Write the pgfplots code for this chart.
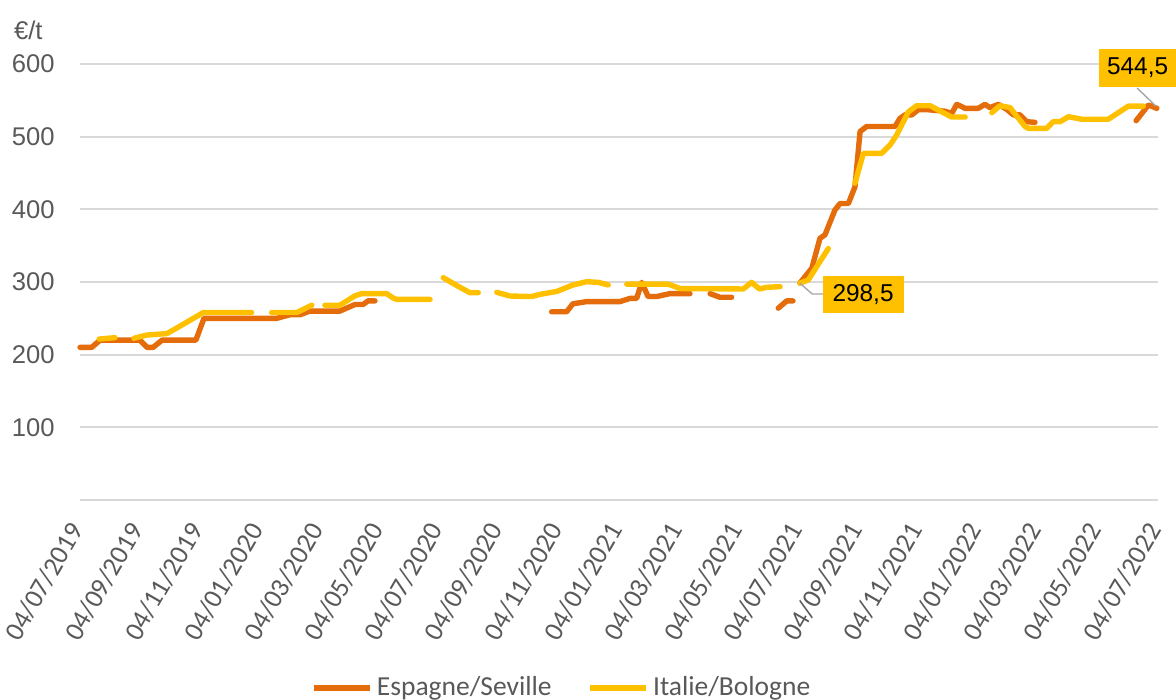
\documentclass[border=0pt]{standalone}
\usepackage{fontspec}
\setmainfont{Liberation Sans}
\newfontfamily\carlito{Carlito}
\usepackage{pgfplots}
\pgfplotsset{compat=1.18}
\definecolor{esp}{RGB}{228,108,10}
\definecolor{ita}{RGB}{255,192,0}
\definecolor{txt}{RGB}{89,89,89}
\definecolor{grd}{RGB}{217,217,217}
\begin{document}
\begin{tikzpicture}
\begin{axis}[
 at={(0,0)}, anchor=south west,
 scale only axis, width=539pt, height=218pt,
 xmin=0, xmax=36, ymin=0, ymax=600,
 clip=false,
 axis line style={draw=none},
 major tick length=0pt,
 ytick={100,200,...,600},
 ymajorgrids, grid style={grd, line width=1pt},
 extra y ticks={0}, extra y tick labels={}, extra y tick style={grid=major},
 /pgf/number format/assume math mode=true,
 yticklabel style={font=\fontsize{12.8}{12.8}\selectfont, text=txt, inner sep=0pt, xshift=-12.5pt},
 xtick={0,2,...,36},
 xticklabels={04/07/2019,04/09/2019,04/11/2019,04/01/2020,04/03/2020,04/05/2020,04/07/2020,04/09/2020,04/11/2020,04/01/2021,04/03/2021,04/05/2021,04/07/2021,04/09/2021,04/11/2021,04/01/2022,04/03/2022,04/05/2022,04/07/2022},
 xticklabel style={font=\carlito\fontsize{13.5}{13.5}\selectfont, text=txt, inner sep=0pt, xshift=-1.5pt, yshift=-12.5pt, rotate=60, anchor=east},
 unbounded coords=jump,
 legend style={at={(0.448,-0.431)}, anchor=center, draw=none, legend columns=2, font=\carlito\fontsize{13.75}{13.75}\selectfont, text=txt, /tikz/every even column/.append style={column sep=16pt}, inner sep=0pt},
 legend image code/.code={\draw[#1, line cap=butt] (0pt,0pt) -- (28pt,0pt);},
]
\addplot[esp, line width=2.7pt, line join=round, line cap=round] coordinates {
(0.00,210) (0.39,210) (0.67,220) (2.00,220) (2.24,210) (2.44,210) (2.74,220) (3.87,220) (4.14,250) (6.57,250) (7.01,255) (7.35,255) (7.68,260) (8.68,260) (9.18,269) (9.45,269) (9.62,274) (9.85,274)
(12,nan)
(15.75,259) (16.25,259) (16.46,270) (16.92,273) (18.03,273) (18.37,277.5) (18.59,277.5) (18.76,299.5) (18.97,280) (19.26,280) (19.70,284) (20.37,284)
(20.7,nan)
(21.04,284) (21.37,279) (21.76,279)
(22.5,nan)
(23.32,264) (23.60,274) (23.81,274)
(23.9,nan)
(24.04,298.5) (24.44,319) (24.71,360) (24.88,365) (25.21,399) (25.38,408) (25.66,408) (25.88,431) (26.05,507) (26.27,514) (27.22,514) (27.38,525) (27.55,530) (27.78,530) (27.99,537) (28.33,537) (28.89,535) (29.11,532) (29.28,544.5) (29.56,539) (30.00,539) (30.22,544.5) (30.39,540) (30.67,544.5) (30.95,537.6) (31.17,530) (31.39,530) (31.62,520.6) (31.89,519.7)
(33,nan)
(35.27,522) (35.68,543.6) (35.96,539)
};
\addlegendentry{Espagne/Seville}
\addplot[ita, line width=2.7pt, line join=round, line cap=round] coordinates {
(0.64,221.5) (1.17,223.4)
(1.5,nan)
(1.80,222.5) (2.23,227) (2.90,229) (3.12,234) (4.12,258) (5.73,258)
(6,nan)
(6.40,258) (7.24,258) (7.74,268)
(8,nan)
(8.18,268) (8.68,268) (9.18,281) (9.41,284) (10.24,284) (10.46,278) (10.58,276) (11.69,276)
(11.9,nan)
(12.13,306) (12.63,294) (13.02,285.3) (13.30,285.3)
(13.6,nan)
(13.92,285.8) (14.36,280.7) (15.08,280) (15.36,283) (15.92,287) (16.47,296) (16.92,300.4) (17.31,299.5) (17.64,296)
(17.9,nan)
(18.26,297) (19.65,297) (20.04,291) (22.15,290.4) (22.43,299.5) (22.69,290.4) (22.93,292.7) (23.38,293.6)
(23.7,nan)
(24.04,298.5) (24.32,302.7) (24.60,321) (24.99,346)
(25.4,nan)
(25.88,436) (26.16,477) (26.77,477) (27.05,488.5) (27.27,502) (27.66,534) (27.94,542.6) (28.39,542.6) (29.11,527) (29.56,527)
(30,nan)
(30.45,533) (30.72,542.6) (31.06,540) (31.17,534) (31.56,514) (31.67,511.4) (32.28,511.4) (32.50,520.6) (32.73,520.6) (33.01,527.5) (33.45,524) (34.34,524) (35.01,542) (35.51,542)
};
\addlegendentry{Italie/Bologne}
\draw[gray!70, line width=0.7pt] (axis cs:24.04,298.5) -- (axis cs:24.45,283.5) -- (axis cs:24.81,283.5);
\node[fill=ita, minimum width=40.5pt, minimum height=18.5pt, inner sep=0pt, font=\fontsize{12.2}{12.2}\selectfont, text=black] at (axis cs:26.15,282.8) {298,5};
\draw[gray!70, line width=0.7pt] (axis cs:35.30,567) -- (axis cs:35.93,542);
\node[fill=ita, minimum width=38.5pt, minimum height=19pt, inner sep=0pt, font=\fontsize{12.2}{12.2}\selectfont, text=black] at (axis cs:35.32,594.5) {544,5};
\node[font=\fontsize{12.8}{12.8}\selectfont, text=txt] at (axis description cs:-0.048,1.078) {€/t};
\end{axis}
\pgfresetboundingbox
\path[use as bounding box] (-40pt,-100pt) rectangle (548pt,250pt);
\end{tikzpicture}
\end{document}
